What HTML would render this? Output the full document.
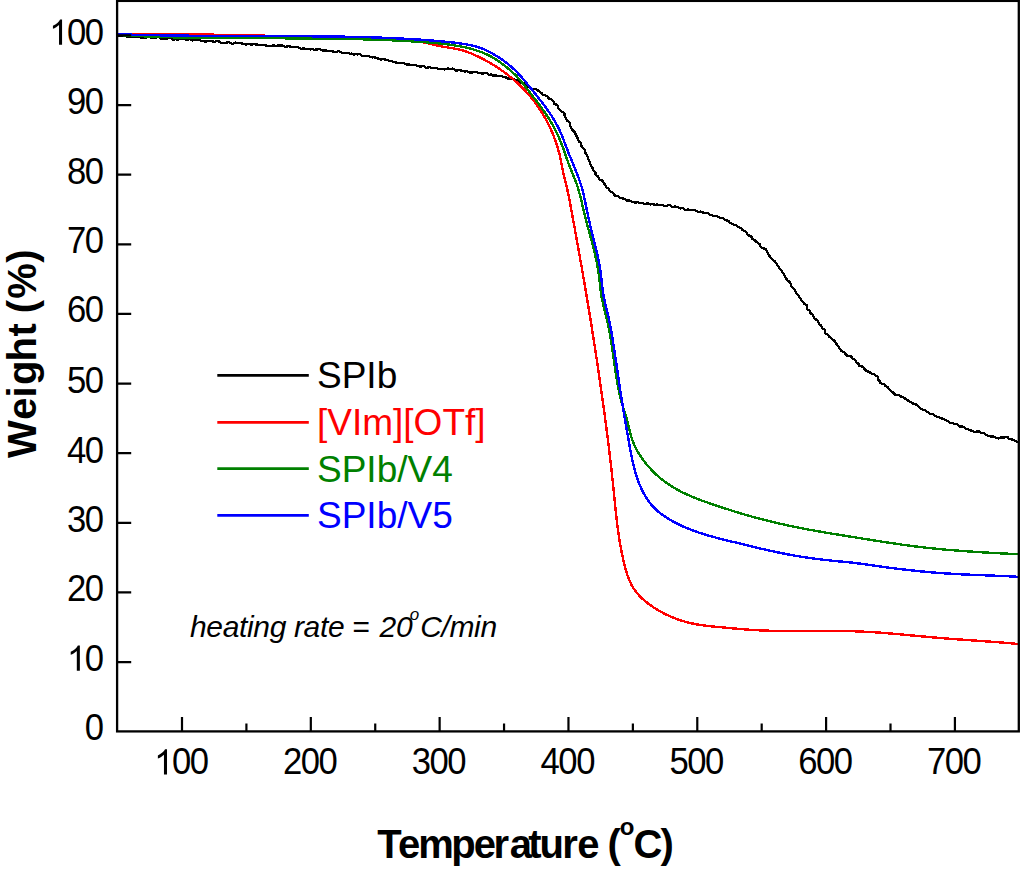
<!DOCTYPE html>
<html><head><meta charset="utf-8"><style>
html,body{margin:0;padding:0;background:#fff;}
body{width:1024px;height:870px;overflow:hidden;}
svg{display:block;}
text{font-family:"Liberation Sans",sans-serif;}
.tl{font-size:36.3px;fill:#000;}
.ttl{font-weight:bold;font-size:40px;fill:#000;}
.lg{font-size:37px;}
.an{font-style:italic;font-size:30px;fill:#000;}
</style></head><body>
<svg width="1024" height="870" viewBox="0 0 1024 870">
<rect width="1024" height="870" fill="#fff"/>
<g fill="none" stroke-linejoin="round" stroke-linecap="round" shape-rendering="crispEdges">
<path d="M116.96,36.39 L118.18,36.07 L119.39,36.01 L120.59,36.10 L121.80,35.95 L122.99,36.10 L124.20,35.99 L125.41,35.93 L126.56,36.65 L127.75,36.86 L128.98,36.47 L130.17,36.61 L131.36,36.88 L132.56,36.79 L133.78,36.48 L134.98,36.47 L136.16,36.99 L137.34,37.31 L138.56,37.00 L139.76,37.01 L140.93,37.66 L142.13,37.65 L143.33,37.68 L144.51,38.16 L145.74,37.62 L146.97,36.94 L148.18,36.76 L149.37,36.94 L150.54,37.64 L151.74,37.71 L152.94,37.71 L154.13,37.87 L155.34,37.65 L156.55,37.52 L157.76,37.27 L158.96,37.26 L160.13,37.89 L161.29,38.92 L162.47,39.21 L163.70,38.74 L164.90,38.65 L166.10,38.68 L167.31,38.58 L168.53,38.09 L169.76,37.50 L170.95,37.76 L172.09,39.00 L173.25,39.82 L174.48,39.33 L175.69,39.17 L176.86,39.70 L178.07,39.56 L179.28,39.28 L180.48,39.31 L181.69,39.22 L182.91,38.93 L184.11,38.91 L185.29,39.39 L186.46,39.85 L187.65,40.00 L188.89,39.43 L190.12,38.96 L191.27,39.78 L192.43,40.50 L193.66,40.02 L194.90,39.45 L196.11,39.34 L197.30,39.56 L198.49,39.79 L199.66,40.19 L200.82,40.79 L202.03,40.78 L203.22,40.92 L204.37,41.60 L205.57,41.64 L206.81,41.18 L208.01,41.23 L209.20,41.39 L210.44,40.90 L211.66,40.66 L212.80,41.43 L213.97,41.98 L215.19,41.67 L216.42,41.30 L217.62,41.33 L218.82,41.46 L219.99,41.90 L221.13,42.70 L222.31,43.02 L223.53,42.80 L224.74,42.70 L225.94,42.69 L227.16,42.53 L228.38,42.35 L229.58,42.31 L230.74,42.97 L231.88,43.80 L233.10,43.57 L234.35,42.90 L235.57,42.64 L236.76,42.79 L237.93,43.28 L239.13,43.26 L240.36,43.02 L241.54,43.30 L242.71,43.74 L243.88,44.14 L245.06,44.43 L246.26,44.45 L247.50,44.04 L248.71,43.89 L249.88,44.38 L251.05,44.78 L252.27,44.47 L253.51,44.05 L254.69,44.30 L255.88,44.51 L257.09,44.36 L258.27,44.73 L259.43,45.29 L260.66,44.93 L261.88,44.71 L263.05,45.19 L264.24,45.32 L265.43,45.40 L266.61,45.72 L267.81,45.84 L269.00,45.94 L270.19,46.10 L271.41,45.88 L272.64,45.54 L273.84,45.52 L275.03,45.74 L276.22,45.84 L277.46,45.43 L278.67,45.35 L279.84,45.76 L281.06,45.56 L282.26,45.59 L283.41,46.25 L284.58,46.61 L285.78,46.76 L286.99,46.58 L288.23,46.23 L289.42,46.31 L290.59,46.71 L291.78,46.94 L292.98,46.98 L294.19,46.94 L295.39,46.96 L296.58,47.07 L297.79,47.08 L298.94,47.63 L300.07,48.45 L301.23,49.00 L302.45,48.80 L303.71,48.21 L304.87,48.67 L306.01,49.35 L307.24,49.10 L308.48,48.69 L309.64,49.23 L310.81,49.51 L312.07,49.00 L313.24,49.35 L314.41,49.75 L315.63,49.54 L316.84,49.49 L318.07,49.27 L319.29,49.18 L320.46,49.54 L321.62,50.00 L322.78,50.42 L323.98,50.53 L325.21,50.29 L326.39,50.58 L327.52,51.21 L328.75,51.04 L329.99,50.76 L331.16,51.08 L332.34,51.33 L333.52,51.57 L334.68,52.02 L335.85,52.29 L337.12,51.82 L338.42,51.10 L339.59,51.46 L340.69,52.32 L341.84,52.77 L343.01,53.10 L344.23,53.01 L345.45,52.96 L346.62,53.27 L347.89,52.83 L349.09,52.95 L350.20,53.69 L351.42,53.62 L352.57,54.07 L353.69,54.69 L354.97,54.28 L356.20,54.13 L357.36,54.52 L358.61,54.31 L359.83,54.26 L360.92,55.06 L362.02,55.78 L363.18,56.11 L364.38,56.17 L365.62,56.05 L366.86,55.93 L368.07,55.98 L369.20,56.49 L370.32,57.04 L371.50,57.23 L372.70,57.38 L373.92,57.35 L375.12,57.49 L376.26,57.90 L377.40,58.31 L378.54,58.72 L379.66,59.25 L380.80,59.63 L382.07,59.42 L383.35,59.14 L384.55,59.28 L385.64,59.90 L386.78,60.33 L388.01,60.30 L389.15,60.68 L390.27,61.19 L391.50,61.19 L392.67,61.42 L393.78,61.99 L394.95,62.24 L396.11,62.57 L397.21,63.16 L398.42,63.25 L399.71,62.88 L400.93,62.92 L402.07,63.34 L403.31,63.22 L404.51,63.29 L405.58,64.13 L406.71,64.60 L407.95,64.47 L409.15,64.55 L410.30,64.96 L411.51,64.99 L412.76,64.76 L413.97,64.77 L415.12,65.16 L416.28,65.55 L417.45,65.84 L418.61,66.18 L419.78,66.50 L420.97,66.66 L422.23,66.34 L423.45,66.20 L424.59,66.74 L425.72,67.44 L426.88,67.87 L428.14,67.47 L429.41,66.95 L430.54,67.62 L431.67,68.31 L432.91,68.01 L434.14,67.81 L435.33,67.99 L436.52,68.19 L437.70,68.47 L438.87,68.83 L440.04,69.20 L441.27,69.02 L442.50,68.76 L443.66,69.22 L444.85,69.43 L446.09,69.07 L447.35,68.60 L448.55,68.64 L449.69,69.34 L450.91,69.21 L452.18,68.53 L453.36,68.79 L454.47,69.75 L455.61,70.39 L456.81,70.48 L458.03,70.35 L459.28,69.94 L460.47,70.10 L461.58,70.95 L462.75,71.26 L463.95,71.36 L465.14,71.47 L466.39,71.10 L467.57,71.29 L468.66,72.23 L469.82,72.61 L471.04,72.52 L472.24,72.52 L473.47,72.29 L474.68,72.26 L475.90,72.13 L477.12,72.00 L478.23,72.72 L479.36,73.28 L480.58,73.18 L481.75,73.45 L482.92,73.69 L484.22,73.09 L485.47,72.83 L486.63,73.18 L487.74,73.80 L488.82,74.66 L490.02,74.72 L491.30,74.33 L492.39,75.06 L493.45,75.98 L494.76,75.51 L496.03,75.22 L497.13,75.88 L498.27,76.36 L499.51,76.29 L500.81,75.97 L501.99,76.25 L503.07,76.99 L504.30,77.05 L505.53,77.13 L506.54,78.09 L507.66,78.57 L508.95,78.42 L510.14,78.63 L511.30,78.97 L512.56,78.94 L513.75,79.20 L514.84,79.74 L515.97,80.13 L517.10,80.55 L518.25,80.89 L519.30,81.48 L520.15,82.50 L521.16,83.15 L522.57,82.91 L523.87,82.94 L524.89,83.58 L525.93,84.16 L526.86,84.97 L527.67,86.01 L528.51,86.99 L529.60,87.49 L530.72,87.95 L531.46,89.13 L532.54,89.66 L534.24,89.01 L535.69,88.87 L536.53,89.87 L537.58,90.48 L538.85,90.70 L539.71,91.66 L540.63,92.48 L541.67,93.09 L542.44,94.16 L543.38,94.91 L544.59,95.26 L545.68,95.78 L546.80,96.28 L547.81,96.95 L548.54,97.98 L549.40,98.82 L550.74,99.07 L551.86,99.61 L552.53,100.66 L553.40,101.50 L553.86,102.73 L554.25,104.01 L555.50,104.46 L556.94,104.77 L557.60,105.79 L557.82,107.17 L558.45,108.19 L559.15,109.16 L559.82,110.15 L560.82,110.89 L561.86,111.62 L563.14,112.19 L564.37,112.82 L564.66,114.10 L564.64,115.57 L565.01,116.77 L565.58,117.84 L566.26,118.84 L566.80,119.92 L567.46,120.93 L568.44,121.74 L569.36,122.59 L569.90,123.67 L570.04,124.99 L570.47,126.14 L570.91,127.27 L571.17,128.50 L571.95,129.43 L572.86,130.28 L573.74,131.16 L574.62,132.04 L575.00,133.19 L575.67,134.19 L576.40,135.16 L576.62,136.40 L577.14,137.47 L577.77,138.49 L578.24,139.60 L578.45,140.84 L579.02,141.89 L580.37,142.54 L581.28,143.41 L581.30,144.75 L581.47,146.01 L582.29,146.93 L582.93,147.96 L583.68,148.93 L584.77,149.74 L585.25,150.85 L585.36,152.13 L585.59,153.35 L586.23,154.38 L586.92,155.39 L587.42,156.48 L587.94,157.57 L588.26,158.75 L588.70,159.87 L589.29,160.91 L589.61,162.10 L589.82,163.33 L590.33,164.42 L590.85,165.51 L591.54,166.50 L592.32,167.43 L592.70,168.59 L593.15,169.71 L593.93,170.64 L594.81,171.50 L595.38,172.54 L595.43,173.94 L595.96,175.04 L597.17,175.65 L598.06,176.48 L598.66,177.52 L599.23,178.59 L599.81,179.67 L601.00,180.25 L602.48,180.60 L603.22,181.54 L603.64,182.75 L604.30,183.77 L605.11,184.67 L605.75,185.71 L605.94,187.13 L606.86,187.94 L608.49,188.15 L609.14,189.17 L609.47,190.49 L610.36,191.30 L611.49,191.83 L612.62,192.29 L613.36,193.23 L613.86,194.55 L614.72,195.43 L616.00,195.63 L617.21,195.89 L618.21,196.53 L619.20,197.23 L620.24,197.86 L621.41,198.18 L622.61,198.42 L623.77,198.75 L624.90,199.15 L625.86,200.08 L626.99,200.51 L628.30,200.35 L629.48,200.58 L630.59,201.06 L631.62,201.84 L632.76,202.24 L633.98,202.28 L635.15,202.51 L636.39,202.39 L637.61,202.26 L638.77,202.52 L639.92,202.82 L641.09,203.07 L642.27,203.21 L643.45,203.39 L644.60,203.93 L645.78,204.11 L647.03,203.50 L648.25,203.37 L649.38,204.21 L650.54,204.64 L651.79,204.12 L653.02,203.86 L654.15,204.61 L655.33,204.87 L656.60,204.39 L657.78,204.63 L658.97,204.82 L660.18,204.86 L661.36,205.09 L662.57,205.12 L663.70,205.74 L664.83,206.37 L666.08,206.10 L667.39,205.47 L668.65,205.19 L669.85,205.28 L670.97,205.99 L672.03,207.03 L673.25,207.01 L674.55,206.49 L675.77,206.48 L676.93,206.85 L678.09,207.18 L679.22,207.72 L680.32,208.40 L681.56,208.23 L682.79,208.17 L683.86,209.00 L684.93,209.82 L686.13,209.85 L687.41,209.50 L688.60,209.63 L689.74,210.03 L690.90,210.32 L692.12,210.29 L693.40,209.96 L694.59,210.13 L695.71,210.59 L696.83,211.08 L697.89,211.79 L699.10,211.83 L700.39,211.58 L701.54,211.88 L702.67,212.30 L703.76,212.89 L704.91,213.21 L706.27,212.75 L707.49,212.87 L708.47,213.83 L709.54,214.44 L710.67,214.85 L711.81,215.25 L712.96,215.60 L714.13,215.90 L715.37,216.01 L716.56,216.27 L717.77,216.45 L718.90,216.90 L719.84,217.89 L721.03,218.15 L722.46,217.83 L723.55,218.37 L724.35,219.62 L725.37,220.30 L726.65,220.39 L727.91,220.53 L728.86,221.38 L729.57,222.69 L730.62,223.26 L731.81,223.55 L732.86,224.14 L733.91,224.70 L735.08,225.05 L736.23,225.45 L737.20,226.15 L738.13,226.93 L739.16,227.52 L740.44,227.74 L741.48,228.33 L742.11,229.52 L742.93,230.41 L744.17,230.72 L745.37,231.10 L746.32,231.84 L746.96,232.92 L747.44,234.19 L748.24,235.07 L749.27,235.68 L750.46,236.13 L751.46,236.81 L751.92,238.06 L752.56,239.11 L753.72,239.63 L754.73,240.30 L755.56,241.16 L756.50,241.92 L757.44,242.67 L758.58,243.24 L759.49,244.02 L759.99,245.23 L760.48,246.44 L761.23,247.39 L762.42,247.90 L763.64,248.39 L764.87,248.89 L766.06,249.42 L766.66,250.52 L767.07,251.79 L767.71,252.84 L768.05,254.15 L768.68,255.20 L769.64,255.95 L770.31,256.95 L771.08,257.86 L771.99,258.66 L772.83,259.51 L773.71,260.34 L774.61,261.16 L775.32,262.12 L776.09,263.04 L776.76,264.04 L777.25,265.17 L778.02,266.09 L778.74,267.04 L779.21,268.18 L780.09,269.03 L781.15,269.76 L781.54,270.95 L782.09,272.02 L783.01,272.85 L783.81,273.76 L784.40,274.81 L784.71,276.04 L785.44,277.00 L786.11,278.00 L786.55,279.15 L787.31,280.08 L788.21,280.93 L789.20,281.71 L790.11,282.55 L790.77,283.55 L790.99,284.85 L791.20,286.15 L791.83,287.17 L792.73,288.01 L793.89,288.65 L794.77,289.49 L795.15,290.69 L795.50,291.91 L796.18,292.90 L796.95,293.82 L797.65,294.79 L798.50,295.64 L799.10,296.69 L799.69,297.74 L800.68,298.49 L801.23,299.57 L801.62,300.76 L802.48,301.61 L803.43,302.39 L804.03,303.43 L804.77,304.37 L806.20,304.87 L807.16,305.69 L807.16,307.12 L807.10,308.57 L807.80,309.55 L809.00,310.23 L809.80,311.15 L810.12,312.36 L810.74,313.39 L811.86,314.05 L812.88,314.76 L813.42,315.84 L813.70,317.15 L814.28,318.22 L815.15,319.06 L816.26,319.68 L817.28,320.38 L817.92,321.41 L818.59,322.42 L819.13,323.53 L819.76,324.56 L820.82,325.25 L821.51,326.23 L821.73,327.55 L822.46,328.49 L823.93,328.93 L825.06,329.60 L825.08,331.04 L825.04,332.55 L825.79,333.50 L827.00,334.09 L827.98,334.82 L828.52,335.93 L829.24,336.89 L830.32,337.49 L831.30,338.18 L832.13,339.05 L833.09,339.78 L834.08,340.49 L834.82,341.47 L835.60,342.40 L836.31,343.36 L836.66,344.59 L837.48,345.48 L838.53,346.22 L838.88,347.44 L839.45,348.52 L840.29,349.39 L840.94,350.43 L841.80,351.30 L842.85,351.94 L844.15,352.20 L845.17,352.84 L845.65,354.29 L846.40,355.35 L847.61,355.72 L848.86,356.03 L850.21,356.22 L851.41,356.67 L851.96,357.91 L852.70,358.88 L854.06,359.21 L855.20,359.78 L855.97,360.72 L856.35,362.04 L856.99,363.10 L858.19,363.59 L858.87,364.60 L859.36,365.83 L860.54,366.30 L861.91,366.49 L863.07,366.89 L863.87,367.77 L864.49,368.97 L865.34,369.87 L866.18,370.81 L867.24,371.40 L868.59,371.49 L869.64,372.09 L870.50,373.03 L871.54,373.65 L872.81,373.86 L873.97,374.29 L874.82,375.19 L876.06,375.57 L877.37,376.03 L877.77,377.36 L877.67,378.94 L878.06,380.13 L879.41,380.65 L880.26,381.50 L880.42,382.91 L881.40,383.66 L882.75,383.85 L883.91,384.16 L884.74,385.05 L885.43,386.20 L886.54,386.65 L887.75,387.05 L888.38,388.13 L888.93,389.26 L889.90,389.99 L890.74,390.85 L891.55,391.74 L892.65,392.28 L893.68,392.85 L894.39,393.96 L895.29,394.84 L896.65,394.83 L898.05,394.69 L899.16,395.15 L900.10,396.01 L901.16,396.63 L902.27,397.13 L903.45,397.47 L904.58,397.92 L905.42,398.92 L906.38,399.65 L907.50,400.11 L908.43,400.89 L909.37,401.65 L910.59,401.96 L911.67,402.49 L912.53,403.38 L913.70,403.77 L915.02,403.92 L916.08,404.48 L916.97,405.32 L917.99,405.94 L918.92,406.72 L919.74,407.68 L920.66,408.48 L921.61,409.23 L922.75,409.65 L923.99,409.91 L925.10,410.38 L926.06,411.11 L926.96,411.95 L928.06,412.43 L929.14,412.96 L930.08,413.75 L931.21,414.16 L932.53,414.20 L933.66,414.60 L934.52,415.56 L935.50,416.29 L936.67,416.57 L937.89,416.72 L939.03,417.01 L940.07,417.63 L941.12,418.22 L942.25,418.56 L943.41,418.85 L944.49,419.34 L945.46,420.04 L946.55,420.50 L947.65,420.94 L948.52,421.84 L949.43,422.66 L950.57,423.05 L951.81,423.23 L953.05,423.35 L954.15,423.78 L955.27,424.18 L956.53,424.20 L957.62,424.71 L958.55,425.68 L959.55,426.40 L960.77,426.60 L962.12,426.49 L963.31,426.76 L964.27,427.55 L965.19,428.42 L966.26,428.96 L967.44,429.20 L968.60,429.47 L969.63,430.14 L970.73,430.61 L971.97,430.54 L973.08,431.09 L974.21,431.87 L975.46,431.71 L976.70,431.45 L977.91,431.54 L979.13,431.50 L980.25,432.01 L981.18,433.06 L982.31,433.13 L983.70,432.78 L984.54,433.73 L985.36,434.69 L986.68,434.77 L987.72,435.38 L988.73,436.12 L989.99,436.24 L991.17,436.51 L992.42,436.48 L993.65,436.36 L994.74,436.95 L995.88,437.52 L997.09,438.12 L998.35,438.48 L999.54,437.90 L1000.70,437.32 L1001.89,437.37 L1003.04,437.66 L1004.21,437.61 L1005.53,437.13 L1006.85,436.92 L1007.97,437.49 L1008.88,438.59 L1009.96,439.15 L1011.23,439.25 L1012.40,439.59 L1013.53,440.00 L1014.64,440.41 L1015.72,440.87 L1016.79,441.51 L1017.98,442.05" stroke="#000" stroke-width="2.3"/>
<path d="M117.00,34.05 L118.50,34.03 L120.00,34.02 L121.50,34.01 L123.00,33.99 L124.50,33.98 L126.00,33.97 L127.50,33.96 L128.99,33.95 L130.49,33.94 L131.99,33.93 L133.49,33.93 L134.99,33.92 L136.49,33.92 L137.99,33.92 L139.49,33.91 L140.99,33.91 L142.49,33.91 L143.99,33.91 L145.48,33.91 L146.98,33.92 L148.48,33.92 L149.98,33.92 L151.48,33.93 L152.98,33.93 L154.48,33.94 L155.98,33.95 L157.48,33.96 L158.98,33.97 L160.48,33.97 L161.98,33.98 L163.47,34.00 L164.97,34.01 L166.47,34.02 L167.97,34.03 L169.47,34.05 L170.97,34.06 L172.47,34.08 L173.97,34.09 L175.47,34.11 L176.97,34.12 L178.47,34.14 L179.97,34.16 L181.46,34.18 L182.96,34.20 L184.46,34.22 L185.96,34.24 L187.46,34.26 L188.96,34.28 L190.46,34.30 L191.96,34.32 L193.46,34.34 L194.96,34.37 L196.46,34.39 L197.96,34.42 L199.45,34.44 L200.95,34.46 L202.45,34.49 L203.95,34.51 L205.45,34.54 L206.95,34.57 L208.45,34.59 L209.95,34.62 L211.45,34.65 L212.95,34.67 L214.45,34.70 L215.95,34.73 L217.44,34.76 L218.94,34.78 L220.44,34.81 L221.94,34.84 L223.44,34.87 L224.94,34.90 L226.44,34.93 L227.94,34.96 L229.44,34.99 L230.94,35.02 L232.44,35.05 L233.93,35.08 L235.43,35.10 L236.93,35.13 L238.43,35.16 L239.93,35.19 L241.43,35.22 L242.93,35.25 L244.43,35.28 L245.93,35.31 L247.43,35.34 L248.92,35.37 L250.42,35.40 L251.92,35.43 L253.42,35.46 L254.92,35.49 L256.42,35.52 L257.92,35.55 L259.42,35.58 L260.92,35.61 L262.41,35.64 L263.91,35.67 L265.41,35.70 L266.91,35.72 L268.41,35.75 L269.91,35.78 L271.41,35.81 L272.91,35.83 L274.41,35.86 L275.90,35.89 L277.40,35.92 L278.90,35.94 L280.40,35.97 L281.90,35.99 L283.40,36.02 L284.90,36.04 L286.40,36.07 L287.89,36.09 L289.39,36.12 L290.89,36.14 L292.39,36.16 L293.89,36.18 L295.39,36.21 L296.89,36.23 L298.38,36.25 L299.88,36.27 L301.38,36.29 L302.88,36.31 L304.38,36.33 L305.88,36.35 L307.38,36.36 L308.87,36.38 L310.37,36.40 L311.87,36.42 L313.37,36.43 L314.87,36.45 L316.37,36.47 L317.87,36.49 L319.36,36.50 L320.86,36.52 L322.36,36.54 L323.86,36.55 L325.36,36.57 L326.86,36.59 L328.36,36.61 L329.85,36.62 L331.35,36.64 L332.85,36.66 L334.35,36.68 L335.85,36.70 L337.35,36.72 L338.85,36.74 L340.35,36.76 L341.85,36.78 L343.34,36.80 L344.84,36.82 L346.34,36.85 L347.84,36.87 L349.34,36.89 L350.84,36.92 L352.34,36.94 L353.84,36.97 L355.34,37.00 L356.84,37.03 L358.34,37.06 L359.84,37.09 L361.34,37.12 L362.84,37.15 L364.34,37.19 L365.84,37.22 L367.34,37.26 L368.84,37.30 L370.34,37.34 L371.84,37.38 L373.34,37.42 L374.84,37.46 L376.34,37.51 L377.84,37.55 L379.34,37.60 L380.84,37.65 L382.34,37.70 L383.84,37.76 L385.35,37.81 L386.85,37.88 L388.35,37.94 L389.85,38.01 L391.34,38.09 L392.84,38.17 L394.34,38.26 L395.84,38.36 L397.33,38.46 L398.83,38.58 L400.32,38.70 L401.81,38.84 L403.30,38.98 L404.79,39.14 L406.27,39.31 L407.76,39.49 L409.24,39.69 L410.72,39.89 L412.20,40.12 L413.67,40.36 L415.15,40.61 L416.62,40.88 L418.08,41.17 L419.55,41.46 L421.02,41.77 L422.48,42.09 L423.94,42.42 L425.40,42.75 L426.86,43.09 L428.33,43.43 L429.79,43.77 L431.25,44.12 L432.71,44.46 L434.18,44.79 L435.64,45.12 L437.11,45.45 L438.58,45.76 L440.05,46.07 L441.52,46.36 L443.00,46.64 L444.48,46.91 L445.96,47.16 L447.45,47.41 L448.93,47.65 L450.42,47.90 L451.90,48.14 L453.38,48.40 L454.85,48.67 L456.32,48.95 L457.79,49.26 L459.24,49.58 L460.69,49.94 L462.13,50.33 L463.57,50.74 L464.99,51.19 L466.40,51.66 L467.81,52.17 L469.21,52.69 L470.60,53.24 L471.99,53.81 L473.36,54.40 L474.73,55.01 L476.10,55.64 L477.46,56.28 L478.81,56.94 L480.15,57.60 L481.49,58.28 L482.83,58.97 L484.16,59.67 L485.48,60.39 L486.80,61.11 L488.11,61.84 L489.41,62.59 L490.71,63.35 L492.00,64.11 L493.29,64.89 L494.56,65.68 L495.83,66.49 L497.09,67.30 L498.35,68.12 L499.59,68.96 L500.83,69.80 L502.06,70.66 L503.28,71.53 L504.50,72.41 L505.70,73.30 L506.90,74.21 L508.08,75.12 L509.26,76.05 L510.43,76.99 L511.59,77.93 L512.74,78.90 L513.88,79.87 L515.01,80.85 L516.12,81.84 L517.23,82.85 L518.33,83.87 L519.42,84.90 L520.50,85.94 L521.56,86.99 L522.62,88.05 L523.66,89.13 L524.69,90.21 L525.71,91.31 L526.72,92.42 L527.72,93.53 L528.71,94.66 L529.68,95.80 L530.65,96.95 L531.60,98.11 L532.53,99.28 L533.46,100.45 L534.37,101.64 L535.28,102.84 L536.16,104.05 L537.04,105.26 L537.90,106.49 L538.75,107.72 L539.59,108.97 L540.41,110.22 L541.23,111.48 L542.02,112.75 L542.81,114.03 L543.58,115.31 L544.33,116.61 L545.08,117.91 L545.80,119.22 L546.52,120.54 L547.22,121.86 L547.91,123.20 L548.58,124.54 L549.23,125.89 L549.88,127.24 L550.50,128.60 L551.12,129.97 L551.72,131.35 L552.30,132.73 L552.87,134.12 L553.42,135.52 L553.96,136.92 L554.49,138.32 L555.00,139.73 L555.50,141.15 L555.99,142.57 L556.46,143.99 L556.92,145.41 L557.37,146.84 L557.81,148.27 L558.23,149.71 L558.65,151.14 L559.04,152.58 L559.42,154.03 L559.78,155.48 L560.11,156.93 L560.41,158.39 L560.70,159.85 L560.98,161.32 L561.25,162.79 L561.52,164.26 L561.80,165.73 L562.08,167.20 L562.38,168.66 L562.69,170.13 L563.02,171.59 L563.35,173.05 L563.69,174.51 L564.04,175.97 L564.39,177.43 L564.75,178.88 L565.11,180.34 L565.47,181.80 L565.82,183.26 L566.18,184.71 L566.53,186.17 L566.87,187.63 L567.20,189.10 L567.53,190.56 L567.84,192.02 L568.15,193.49 L568.46,194.96 L568.75,196.43 L569.05,197.89 L569.34,199.36 L569.62,200.83 L569.90,202.31 L570.18,203.78 L570.45,205.25 L570.73,206.72 L571.00,208.20 L571.27,209.67 L571.54,211.14 L571.81,212.62 L572.09,214.09 L572.36,215.56 L572.63,217.04 L572.90,218.51 L573.17,219.98 L573.44,221.46 L573.71,222.93 L573.98,224.41 L574.25,225.88 L574.52,227.36 L574.79,228.83 L575.06,230.30 L575.32,231.78 L575.59,233.25 L575.86,234.73 L576.13,236.21 L576.40,237.68 L576.66,239.16 L576.93,240.63 L577.20,242.11 L577.46,243.58 L577.73,245.06 L577.99,246.53 L578.26,248.01 L578.52,249.49 L578.79,250.96 L579.05,252.44 L579.31,253.92 L579.58,255.39 L579.84,256.87 L580.10,258.35 L580.36,259.82 L580.62,261.30 L580.89,262.78 L581.15,264.25 L581.41,265.73 L581.67,267.21 L581.92,268.68 L582.18,270.16 L582.44,271.64 L582.70,273.12 L582.96,274.59 L583.21,276.07 L583.47,277.55 L583.72,279.03 L583.98,280.50 L584.23,281.98 L584.49,283.46 L584.74,284.94 L584.99,286.42 L585.25,287.89 L585.50,289.37 L585.75,290.85 L586.00,292.33 L586.25,293.81 L586.50,295.29 L586.75,296.77 L586.99,298.24 L587.24,299.72 L587.49,301.20 L587.73,302.68 L587.98,304.16 L588.23,305.64 L588.47,307.12 L588.71,308.60 L588.96,310.07 L589.20,311.55 L589.44,313.03 L589.68,314.51 L589.92,315.99 L590.16,317.47 L590.40,318.95 L590.64,320.43 L590.88,321.91 L591.12,323.39 L591.35,324.87 L591.59,326.35 L591.83,327.83 L592.06,329.31 L592.30,330.79 L592.53,332.27 L592.76,333.75 L593.00,335.23 L593.23,336.71 L593.46,338.19 L593.69,339.67 L593.92,341.15 L594.15,342.63 L594.38,344.11 L594.61,345.59 L594.84,347.08 L595.06,348.56 L595.29,350.04 L595.52,351.52 L595.74,353.00 L595.97,354.48 L596.19,355.96 L596.42,357.45 L596.64,358.93 L596.86,360.41 L597.09,361.89 L597.31,363.37 L597.53,364.86 L597.75,366.34 L597.97,367.82 L598.19,369.30 L598.41,370.79 L598.62,372.27 L598.84,373.75 L599.06,375.24 L599.28,376.72 L599.49,378.20 L599.71,379.69 L599.92,381.17 L600.14,382.65 L600.35,384.14 L600.56,385.62 L600.78,387.11 L600.99,388.59 L601.20,390.07 L601.41,391.56 L601.62,393.04 L601.83,394.53 L602.04,396.01 L602.25,397.50 L602.45,398.98 L602.66,400.47 L602.87,401.95 L603.07,403.44 L603.28,404.93 L603.49,406.41 L603.69,407.90 L603.89,409.38 L604.10,410.87 L604.30,412.36 L604.50,413.84 L604.70,415.33 L604.90,416.82 L605.10,418.30 L605.30,419.79 L605.50,421.28 L605.70,422.76 L605.89,424.25 L606.09,425.74 L606.28,427.23 L606.48,428.71 L606.67,430.20 L606.87,431.69 L607.06,433.18 L607.25,434.67 L607.44,436.15 L607.63,437.64 L607.82,439.13 L608.00,440.62 L608.19,442.11 L608.38,443.60 L608.56,445.08 L608.74,446.57 L608.93,448.06 L609.11,449.55 L609.29,451.04 L609.47,452.53 L609.65,454.02 L609.82,455.51 L610.00,457.00 L610.18,458.49 L610.35,459.98 L610.52,461.47 L610.70,462.95 L610.87,464.44 L611.04,465.93 L611.21,467.42 L611.37,468.91 L611.54,470.40 L611.70,471.89 L611.87,473.38 L612.03,474.87 L612.19,476.36 L612.35,477.85 L612.51,479.34 L612.67,480.83 L612.83,482.32 L612.98,483.81 L613.13,485.30 L613.29,486.79 L613.44,488.28 L613.59,489.77 L613.74,491.26 L613.89,492.76 L614.04,494.25 L614.18,495.74 L614.33,497.23 L614.48,498.72 L614.63,500.21 L614.78,501.70 L614.93,503.18 L615.08,504.67 L615.23,506.16 L615.39,507.65 L615.54,509.14 L615.70,510.63 L615.86,512.12 L616.02,513.61 L616.18,515.09 L616.35,516.58 L616.52,518.07 L616.69,519.56 L616.86,521.04 L617.04,522.53 L617.23,524.01 L617.41,525.50 L617.60,526.99 L617.80,528.47 L618.00,529.95 L618.20,531.44 L618.41,532.92 L618.62,534.40 L618.84,535.89 L619.06,537.37 L619.29,538.85 L619.53,540.33 L619.77,541.81 L620.01,543.29 L620.27,544.77 L620.53,546.25 L620.80,547.72 L621.07,549.20 L621.35,550.68 L621.64,552.15 L621.94,553.63 L622.24,555.10 L622.55,556.58 L622.87,558.05 L623.20,559.52 L623.54,560.99 L623.89,562.46 L624.24,563.93 L624.61,565.40 L624.98,566.87 L625.37,568.33 L625.77,569.79 L626.19,571.24 L626.63,572.69 L627.08,574.13 L627.56,575.55 L628.06,576.97 L628.59,578.37 L629.14,579.75 L629.73,581.12 L630.34,582.47 L630.99,583.81 L631.67,585.12 L632.39,586.41 L633.14,587.68 L633.94,588.93 L634.78,590.14 L635.66,591.34 L636.57,592.50 L637.52,593.65 L638.50,594.77 L639.52,595.86 L640.57,596.94 L641.64,597.99 L642.74,599.02 L643.86,600.02 L645.01,601.01 L646.18,601.97 L647.37,602.91 L648.57,603.83 L649.79,604.74 L651.03,605.62 L652.27,606.48 L653.53,607.32 L654.80,608.15 L656.08,608.95 L657.36,609.74 L658.66,610.51 L659.97,611.26 L661.28,611.99 L662.61,612.70 L663.94,613.39 L665.29,614.07 L666.64,614.72 L668.00,615.36 L669.37,615.98 L670.74,616.58 L672.12,617.16 L673.51,617.73 L674.91,618.27 L676.31,618.80 L677.72,619.31 L679.14,619.80 L680.56,620.27 L681.98,620.73 L683.42,621.17 L684.85,621.59 L686.30,621.99 L687.74,622.37 L689.19,622.74 L690.65,623.09 L692.11,623.42 L693.57,623.73 L695.04,624.03 L696.51,624.31 L697.98,624.57 L699.45,624.82 L700.93,625.05 L702.41,625.26 L703.89,625.46 L705.38,625.66 L706.86,625.84 L708.35,626.01 L709.84,626.17 L711.33,626.33 L712.82,626.48 L714.31,626.62 L715.81,626.77 L717.30,626.90 L718.79,627.04 L720.29,627.18 L721.78,627.32 L723.27,627.46 L724.77,627.60 L726.26,627.74 L727.76,627.88 L729.25,628.01 L730.74,628.15 L732.24,628.29 L733.73,628.42 L735.23,628.56 L736.72,628.69 L738.22,628.82 L739.71,628.95 L741.21,629.08 L742.70,629.20 L744.20,629.32 L745.69,629.43 L747.19,629.55 L748.68,629.66 L750.18,629.76 L751.67,629.86 L753.17,629.96 L754.67,630.05 L756.16,630.14 L757.66,630.22 L759.16,630.30 L760.65,630.37 L762.15,630.44 L763.65,630.50 L765.15,630.56 L766.64,630.62 L768.14,630.67 L769.64,630.72 L771.14,630.76 L772.64,630.80 L774.13,630.84 L775.63,630.87 L777.13,630.90 L778.63,630.93 L780.13,630.95 L781.63,630.97 L783.13,630.99 L784.63,631.00 L786.13,631.02 L787.63,631.03 L789.13,631.04 L790.63,631.04 L792.13,631.05 L793.63,631.05 L795.13,631.05 L796.63,631.05 L798.13,631.05 L799.63,631.05 L801.13,631.05 L802.63,631.04 L804.13,631.04 L805.63,631.03 L807.13,631.02 L808.63,631.02 L810.13,631.01 L811.63,631.00 L813.13,630.99 L814.63,630.99 L816.13,630.98 L817.63,630.97 L819.13,630.97 L820.63,630.96 L822.13,630.96 L823.63,630.95 L825.13,630.95 L826.63,630.95 L828.13,630.95 L829.63,630.95 L831.13,630.95 L832.63,630.96 L834.13,630.96 L835.63,630.97 L837.13,630.98 L838.62,631.00 L840.12,631.01 L841.62,631.03 L843.12,631.05 L844.62,631.07 L846.12,631.10 L847.62,631.13 L849.11,631.16 L850.61,631.20 L852.11,631.24 L853.61,631.28 L855.10,631.33 L856.60,631.38 L858.10,631.43 L859.60,631.49 L861.09,631.55 L862.59,631.62 L864.09,631.69 L865.58,631.77 L867.08,631.85 L868.57,631.93 L870.07,632.01 L871.56,632.10 L873.06,632.20 L874.55,632.30 L876.05,632.39 L877.54,632.50 L879.04,632.60 L880.53,632.71 L882.03,632.82 L883.52,632.94 L885.02,633.05 L886.51,633.17 L888.00,633.29 L889.50,633.42 L890.99,633.54 L892.49,633.67 L893.98,633.80 L895.47,633.93 L896.97,634.06 L898.46,634.19 L899.95,634.33 L901.45,634.46 L902.94,634.60 L904.43,634.74 L905.93,634.87 L907.42,635.01 L908.91,635.15 L910.41,635.29 L911.90,635.43 L913.39,635.57 L914.88,635.71 L916.38,635.86 L917.87,636.00 L919.36,636.14 L920.86,636.28 L922.35,636.42 L923.84,636.56 L925.34,636.69 L926.83,636.83 L928.32,636.97 L929.82,637.10 L931.31,637.24 L932.81,637.37 L934.30,637.50 L935.79,637.63 L937.29,637.76 L938.78,637.89 L940.28,638.01 L941.77,638.14 L943.26,638.26 L944.76,638.38 L946.25,638.50 L947.75,638.61 L949.24,638.73 L950.74,638.84 L952.23,638.95 L953.73,639.07 L955.22,639.18 L956.72,639.28 L958.21,639.39 L959.71,639.50 L961.20,639.61 L962.70,639.71 L964.19,639.82 L965.69,639.92 L967.18,640.03 L968.68,640.13 L970.17,640.24 L971.67,640.34 L973.17,640.45 L974.66,640.55 L976.16,640.65 L977.65,640.76 L979.15,640.86 L980.64,640.97 L982.14,641.07 L983.63,641.18 L985.13,641.29 L986.62,641.39 L988.12,641.50 L989.61,641.61 L991.11,641.72 L992.60,641.83 L994.10,641.95 L995.59,642.06 L997.09,642.18 L998.58,642.29 L1000.08,642.41 L1001.57,642.53 L1003.07,642.65 L1004.56,642.78 L1006.05,642.90 L1007.55,643.03 L1009.04,643.16 L1010.54,643.29 L1012.03,643.42 L1013.52,643.56 L1015.02,643.70 L1016.51,643.84 L1018.00,643.98" stroke="#f00" stroke-width="2.4"/>
<path d="M117.00,34.94 L118.50,35.03 L119.99,35.12 L121.49,35.21 L122.99,35.29 L124.49,35.38 L125.98,35.46 L127.48,35.54 L128.98,35.62 L130.47,35.70 L131.97,35.78 L133.47,35.85 L134.97,35.92 L136.46,35.99 L137.96,36.06 L139.46,36.13 L140.96,36.20 L142.46,36.27 L143.95,36.33 L145.45,36.39 L146.95,36.45 L148.45,36.51 L149.94,36.57 L151.44,36.63 L152.94,36.68 L154.44,36.74 L155.94,36.79 L157.43,36.84 L158.93,36.89 L160.43,36.94 L161.93,36.99 L163.43,37.03 L164.92,37.08 L166.42,37.12 L167.92,37.16 L169.42,37.21 L170.92,37.25 L172.41,37.29 L173.91,37.32 L175.41,37.36 L176.91,37.40 L178.41,37.43 L179.91,37.47 L181.40,37.50 L182.90,37.53 L184.40,37.56 L185.90,37.59 L187.40,37.62 L188.90,37.65 L190.40,37.67 L191.89,37.70 L193.39,37.73 L194.89,37.75 L196.39,37.77 L197.89,37.80 L199.39,37.82 L200.89,37.84 L202.38,37.86 L203.88,37.88 L205.38,37.90 L206.88,37.92 L208.38,37.93 L209.88,37.95 L211.38,37.97 L212.88,37.98 L214.37,38.00 L215.87,38.01 L217.37,38.02 L218.87,38.04 L220.37,38.05 L221.87,38.06 L223.37,38.07 L224.87,38.08 L226.36,38.09 L227.86,38.10 L229.36,38.11 L230.86,38.12 L232.36,38.13 L233.86,38.14 L235.36,38.15 L236.86,38.15 L238.36,38.16 L239.85,38.17 L241.35,38.17 L242.85,38.18 L244.35,38.18 L245.85,38.19 L247.35,38.20 L248.85,38.20 L250.35,38.21 L251.85,38.21 L253.35,38.21 L254.84,38.22 L256.34,38.22 L257.84,38.23 L259.34,38.23 L260.84,38.23 L262.34,38.24 L263.84,38.24 L265.34,38.25 L266.84,38.25 L268.34,38.25 L269.83,38.26 L271.33,38.26 L272.83,38.27 L274.33,38.27 L275.83,38.27 L277.33,38.28 L278.83,38.28 L280.33,38.29 L281.83,38.29 L283.33,38.30 L284.82,38.30 L286.32,38.31 L287.82,38.31 L289.32,38.32 L290.82,38.32 L292.32,38.33 L293.82,38.34 L295.32,38.34 L296.82,38.35 L298.32,38.36 L299.81,38.37 L301.31,38.38 L302.81,38.38 L304.31,38.39 L305.81,38.40 L307.31,38.41 L308.81,38.42 L310.31,38.44 L311.80,38.45 L313.30,38.46 L314.80,38.47 L316.30,38.49 L317.80,38.50 L319.30,38.52 L320.80,38.53 L322.30,38.55 L323.79,38.56 L325.29,38.58 L326.79,38.60 L328.29,38.62 L329.79,38.64 L331.29,38.66 L332.79,38.68 L334.29,38.70 L335.78,38.72 L337.28,38.75 L338.78,38.77 L340.28,38.80 L341.78,38.82 L343.28,38.85 L344.77,38.88 L346.27,38.91 L347.77,38.94 L349.27,38.97 L350.77,39.00 L352.27,39.03 L353.76,39.07 L355.26,39.10 L356.76,39.14 L358.26,39.17 L359.76,39.21 L361.26,39.25 L362.75,39.29 L364.25,39.33 L365.75,39.38 L367.25,39.42 L368.75,39.46 L370.24,39.51 L371.74,39.56 L373.24,39.61 L374.74,39.66 L376.23,39.71 L377.73,39.76 L379.23,39.82 L380.73,39.87 L382.23,39.93 L383.72,39.99 L385.22,40.05 L386.72,40.11 L388.22,40.17 L389.71,40.23 L391.21,40.30 L392.71,40.36 L394.21,40.43 L395.70,40.50 L397.20,40.57 L398.70,40.65 L400.20,40.72 L401.69,40.80 L403.19,40.88 L404.69,40.96 L406.18,41.04 L407.68,41.12 L409.18,41.20 L410.68,41.29 L412.17,41.38 L413.67,41.47 L415.17,41.56 L416.66,41.65 L418.16,41.75 L419.66,41.84 L421.15,41.94 L422.65,42.04 L424.15,42.15 L425.64,42.25 L427.14,42.36 L428.63,42.48 L430.13,42.60 L431.62,42.72 L433.12,42.85 L434.61,42.98 L436.10,43.12 L437.60,43.26 L439.09,43.41 L440.58,43.56 L442.07,43.73 L443.56,43.90 L445.05,44.07 L446.53,44.26 L448.02,44.45 L449.51,44.66 L450.99,44.87 L452.47,45.09 L453.95,45.32 L455.43,45.56 L456.91,45.81 L458.39,46.07 L459.87,46.34 L461.34,46.63 L462.81,46.92 L464.28,47.23 L465.75,47.55 L467.21,47.89 L468.67,48.24 L470.13,48.61 L471.58,48.99 L473.02,49.40 L474.46,49.82 L475.89,50.26 L477.31,50.72 L478.73,51.20 L480.13,51.70 L481.53,52.23 L482.92,52.77 L484.30,53.35 L485.67,53.94 L487.03,54.56 L488.37,55.21 L489.71,55.89 L491.03,56.59 L492.34,57.32 L493.63,58.07 L494.92,58.85 L496.19,59.65 L497.45,60.48 L498.70,61.32 L499.94,62.18 L501.16,63.06 L502.38,63.96 L503.58,64.87 L504.77,65.79 L505.95,66.73 L507.12,67.69 L508.28,68.65 L509.43,69.62 L510.56,70.60 L511.69,71.59 L512.80,72.59 L513.90,73.61 L514.98,74.64 L516.04,75.68 L517.08,76.75 L518.10,77.83 L519.11,78.93 L520.09,80.06 L521.05,81.20 L522.00,82.35 L522.93,83.52 L523.86,84.70 L524.77,85.89 L525.68,87.08 L526.59,88.27 L527.50,89.47 L528.41,90.66 L529.32,91.85 L530.24,93.04 L531.16,94.22 L532.08,95.41 L533.00,96.59 L533.92,97.78 L534.83,98.96 L535.75,100.15 L536.66,101.34 L537.57,102.53 L538.48,103.73 L539.38,104.93 L540.27,106.13 L541.16,107.34 L542.04,108.55 L542.92,109.77 L543.78,110.99 L544.64,112.22 L545.48,113.46 L546.32,114.71 L547.15,115.96 L547.96,117.22 L548.77,118.48 L549.56,119.75 L550.35,121.03 L551.12,122.32 L551.87,123.61 L552.62,124.91 L553.35,126.22 L554.07,127.53 L554.77,128.86 L555.46,130.19 L556.13,131.53 L556.79,132.88 L557.43,134.23 L558.05,135.60 L558.67,136.96 L559.27,138.34 L559.85,139.72 L560.43,141.11 L560.99,142.50 L561.54,143.90 L562.07,145.30 L562.60,146.70 L563.12,148.10 L563.62,149.51 L564.12,150.92 L564.61,152.34 L565.09,153.75 L565.57,155.16 L566.06,156.57 L566.55,157.98 L567.05,159.38 L567.56,160.78 L568.08,162.18 L568.61,163.57 L569.15,164.96 L569.70,166.35 L570.26,167.74 L570.82,169.13 L571.38,170.52 L571.95,171.91 L572.51,173.30 L573.08,174.69 L573.63,176.09 L574.19,177.49 L574.73,178.89 L575.27,180.29 L575.79,181.70 L576.30,183.11 L576.80,184.52 L577.28,185.94 L577.74,187.36 L578.19,188.79 L578.61,190.22 L579.03,191.66 L579.43,193.10 L579.81,194.54 L580.19,195.99 L580.56,197.44 L580.91,198.89 L581.27,200.35 L581.61,201.80 L581.95,203.26 L582.29,204.72 L582.63,206.17 L582.97,207.63 L583.31,209.09 L583.65,210.55 L583.99,212.01 L584.35,213.46 L584.71,214.92 L585.07,216.37 L585.44,217.83 L585.81,219.28 L586.19,220.73 L586.57,222.18 L586.95,223.63 L587.34,225.08 L587.73,226.53 L588.12,227.98 L588.51,229.43 L588.91,230.88 L589.30,232.33 L589.69,233.78 L590.09,235.23 L590.48,236.68 L590.87,238.12 L591.26,239.57 L591.65,241.02 L592.03,242.47 L592.41,243.93 L592.79,245.38 L593.16,246.83 L593.53,248.28 L593.89,249.74 L594.25,251.19 L594.60,252.65 L594.94,254.11 L595.28,255.57 L595.61,257.03 L595.94,258.49 L596.25,259.95 L596.55,261.42 L596.85,262.88 L597.14,264.35 L597.41,265.82 L597.68,267.29 L597.93,268.77 L598.17,270.25 L598.40,271.72 L598.62,273.21 L598.83,274.69 L599.02,276.18 L599.20,277.66 L599.36,279.15 L599.52,280.65 L599.68,282.14 L599.83,283.63 L599.99,285.13 L600.15,286.62 L600.31,288.11 L600.49,289.60 L600.68,291.09 L600.88,292.57 L601.10,294.05 L601.34,295.53 L601.61,297.00 L601.90,298.47 L602.20,299.94 L602.52,301.40 L602.85,302.86 L603.20,304.32 L603.55,305.78 L603.91,307.24 L604.27,308.69 L604.64,310.15 L605.01,311.60 L605.38,313.05 L605.74,314.51 L606.09,315.97 L606.44,317.42 L606.78,318.88 L607.11,320.34 L607.44,321.81 L607.75,323.27 L608.06,324.73 L608.36,326.20 L608.66,327.67 L608.95,329.14 L609.23,330.60 L609.50,332.08 L609.77,333.55 L610.04,335.02 L610.30,336.50 L610.55,337.97 L610.80,339.45 L611.05,340.92 L611.29,342.40 L611.52,343.88 L611.76,345.36 L611.99,346.84 L612.21,348.33 L612.43,349.81 L612.65,351.29 L612.87,352.78 L613.09,354.26 L613.30,355.75 L613.51,357.23 L613.72,358.72 L613.93,360.21 L614.13,361.70 L614.34,363.19 L614.55,364.68 L614.76,366.16 L614.97,367.65 L615.18,369.14 L615.40,370.63 L615.61,372.12 L615.84,373.60 L616.06,375.09 L616.29,376.57 L616.53,378.05 L616.77,379.54 L617.02,381.02 L617.27,382.50 L617.53,383.97 L617.80,385.45 L618.08,386.92 L618.37,388.39 L618.66,389.86 L618.97,391.32 L619.28,392.79 L619.61,394.25 L619.95,395.70 L620.30,397.16 L620.66,398.61 L621.04,400.06 L621.43,401.50 L621.83,402.94 L622.25,404.38 L622.68,405.81 L623.12,407.24 L623.57,408.67 L624.02,410.10 L624.46,411.53 L624.91,412.96 L625.35,414.39 L625.79,415.82 L626.21,417.26 L626.62,418.69 L627.02,420.14 L627.39,421.59 L627.75,423.04 L628.10,424.49 L628.45,425.95 L628.79,427.41 L629.14,428.86 L629.49,430.32 L629.85,431.77 L630.23,433.21 L630.63,434.66 L631.06,436.09 L631.50,437.52 L631.97,438.94 L632.47,440.35 L632.99,441.75 L633.55,443.13 L634.13,444.51 L634.75,445.87 L635.39,447.22 L636.07,448.56 L636.77,449.88 L637.50,451.19 L638.25,452.49 L639.03,453.77 L639.83,455.04 L640.65,456.30 L641.49,457.54 L642.36,458.77 L643.24,459.99 L644.14,461.19 L645.05,462.38 L645.98,463.56 L646.93,464.72 L647.90,465.87 L648.88,467.00 L649.87,468.12 L650.89,469.23 L651.92,470.32 L652.96,471.39 L654.02,472.45 L655.10,473.49 L656.19,474.52 L657.29,475.52 L658.41,476.52 L659.55,477.49 L660.70,478.45 L661.87,479.39 L663.05,480.31 L664.24,481.22 L665.45,482.11 L666.67,482.98 L667.90,483.84 L669.14,484.67 L670.40,485.50 L671.67,486.30 L672.95,487.09 L674.23,487.86 L675.53,488.62 L676.84,489.36 L678.15,490.09 L679.47,490.80 L680.80,491.49 L682.14,492.17 L683.48,492.84 L684.83,493.49 L686.19,494.13 L687.55,494.75 L688.91,495.37 L690.29,495.96 L691.66,496.55 L693.04,497.13 L694.43,497.70 L695.82,498.25 L697.21,498.80 L698.61,499.34 L700.01,499.87 L701.42,500.39 L702.82,500.91 L704.23,501.42 L705.65,501.92 L707.06,502.42 L708.48,502.91 L709.90,503.40 L711.32,503.89 L712.74,504.37 L714.16,504.85 L715.58,505.33 L717.00,505.80 L718.43,506.28 L719.85,506.75 L721.27,507.22 L722.70,507.69 L724.12,508.15 L725.55,508.61 L726.98,509.07 L728.40,509.53 L729.83,509.99 L731.26,510.44 L732.69,510.89 L734.12,511.34 L735.55,511.78 L736.98,512.23 L738.42,512.66 L739.85,513.10 L741.29,513.53 L742.72,513.96 L744.16,514.38 L745.60,514.81 L747.04,515.22 L748.48,515.64 L749.92,516.05 L751.36,516.45 L752.80,516.85 L754.25,517.25 L755.69,517.65 L757.14,518.04 L758.59,518.42 L760.04,518.80 L761.49,519.18 L762.94,519.56 L764.39,519.93 L765.84,520.30 L767.30,520.66 L768.75,521.02 L770.21,521.38 L771.66,521.73 L773.12,522.08 L774.58,522.42 L776.04,522.77 L777.50,523.11 L778.96,523.44 L780.42,523.78 L781.88,524.10 L783.35,524.43 L784.81,524.75 L786.28,525.07 L787.74,525.39 L789.21,525.70 L790.67,526.01 L792.14,526.32 L793.61,526.63 L795.08,526.93 L796.55,527.23 L798.02,527.52 L799.49,527.82 L800.96,528.11 L802.43,528.39 L803.90,528.68 L805.37,528.96 L806.85,529.24 L808.32,529.52 L809.80,529.79 L811.27,530.07 L812.74,530.33 L814.22,530.60 L815.69,530.87 L817.17,531.13 L818.65,531.39 L820.12,531.65 L821.60,531.90 L823.08,532.15 L824.55,532.41 L826.03,532.65 L827.51,532.90 L828.99,533.15 L830.47,533.39 L831.94,533.64 L833.42,533.88 L834.90,534.12 L836.38,534.36 L837.86,534.60 L839.34,534.84 L840.82,535.07 L842.30,535.31 L843.78,535.55 L845.26,535.79 L846.74,536.02 L848.21,536.26 L849.69,536.50 L851.17,536.74 L852.65,536.97 L854.13,537.21 L855.61,537.45 L857.09,537.69 L858.57,537.93 L860.05,538.17 L861.53,538.41 L863.01,538.65 L864.49,538.89 L865.97,539.13 L867.45,539.36 L868.93,539.60 L870.41,539.84 L871.89,540.08 L873.37,540.31 L874.85,540.55 L876.33,540.78 L877.81,541.02 L879.29,541.25 L880.77,541.48 L882.25,541.71 L883.74,541.94 L885.22,542.17 L886.70,542.40 L888.18,542.62 L889.66,542.85 L891.14,543.07 L892.63,543.29 L894.11,543.51 L895.59,543.73 L897.08,543.94 L898.56,544.16 L900.04,544.37 L901.53,544.58 L903.01,544.79 L904.50,544.99 L905.98,545.20 L907.47,545.40 L908.95,545.60 L910.44,545.79 L911.92,545.99 L913.41,546.18 L914.90,546.37 L916.38,546.55 L917.87,546.73 L919.36,546.91 L920.85,547.09 L922.33,547.26 L923.82,547.43 L925.31,547.60 L926.80,547.77 L928.29,547.93 L929.78,548.09 L931.27,548.25 L932.76,548.40 L934.25,548.55 L935.75,548.70 L937.24,548.85 L938.73,549.00 L940.22,549.14 L941.71,549.28 L943.21,549.42 L944.70,549.55 L946.19,549.68 L947.69,549.82 L949.18,549.94 L950.67,550.07 L952.17,550.19 L953.66,550.32 L955.16,550.44 L956.65,550.56 L958.15,550.67 L959.64,550.79 L961.14,550.90 L962.63,551.01 L964.13,551.12 L965.62,551.23 L967.12,551.33 L968.61,551.44 L970.11,551.54 L971.61,551.64 L973.10,551.74 L974.60,551.84 L976.09,551.93 L977.59,552.03 L979.09,552.12 L980.58,552.21 L982.08,552.31 L983.58,552.40 L985.07,552.48 L986.57,552.57 L988.07,552.66 L989.56,552.74 L991.06,552.83 L992.56,552.91 L994.05,552.99 L995.55,553.07 L997.05,553.15 L998.54,553.23 L1000.04,553.31 L1001.54,553.38 L1003.04,553.46 L1004.53,553.54 L1006.03,553.61 L1007.53,553.69 L1009.02,553.76 L1010.52,553.83 L1012.01,553.91 L1013.51,553.98 L1015.01,554.05 L1016.50,554.12 L1018.00,554.19" stroke="#008000" stroke-width="2.4"/>
<path d="M117.00,34.28 L118.50,34.33 L120.00,34.38 L121.50,34.42 L123.00,34.47 L124.50,34.51 L125.99,34.55 L127.49,34.59 L128.99,34.64 L130.49,34.68 L131.99,34.71 L133.49,34.75 L134.99,34.79 L136.49,34.83 L137.98,34.86 L139.48,34.90 L140.98,34.93 L142.48,34.97 L143.98,35.00 L145.48,35.03 L146.98,35.07 L148.48,35.10 L149.98,35.13 L151.47,35.16 L152.97,35.19 L154.47,35.21 L155.97,35.24 L157.47,35.27 L158.97,35.29 L160.47,35.32 L161.97,35.35 L163.47,35.37 L164.97,35.39 L166.46,35.42 L167.96,35.44 L169.46,35.46 L170.96,35.48 L172.46,35.50 L173.96,35.52 L175.46,35.54 L176.96,35.56 L178.46,35.58 L179.96,35.60 L181.46,35.62 L182.95,35.64 L184.45,35.65 L185.95,35.67 L187.45,35.68 L188.95,35.70 L190.45,35.71 L191.95,35.73 L193.45,35.74 L194.95,35.76 L196.45,35.77 L197.95,35.78 L199.45,35.80 L200.95,35.81 L202.44,35.82 L203.94,35.83 L205.44,35.84 L206.94,35.85 L208.44,35.86 L209.94,35.87 L211.44,35.88 L212.94,35.89 L214.44,35.90 L215.94,35.91 L217.44,35.92 L218.94,35.93 L220.44,35.93 L221.94,35.94 L223.43,35.95 L224.93,35.96 L226.43,35.96 L227.93,35.97 L229.43,35.98 L230.93,35.98 L232.43,35.99 L233.93,36.00 L235.43,36.00 L236.93,36.01 L238.43,36.01 L239.93,36.02 L241.43,36.02 L242.93,36.03 L244.43,36.03 L245.92,36.04 L247.42,36.04 L248.92,36.05 L250.42,36.05 L251.92,36.06 L253.42,36.06 L254.92,36.07 L256.42,36.07 L257.92,36.08 L259.42,36.08 L260.92,36.09 L262.42,36.09 L263.92,36.10 L265.42,36.10 L266.92,36.11 L268.41,36.11 L269.91,36.12 L271.41,36.12 L272.91,36.13 L274.41,36.13 L275.91,36.14 L277.41,36.14 L278.91,36.15 L280.41,36.15 L281.91,36.16 L283.41,36.16 L284.91,36.17 L286.41,36.18 L287.90,36.18 L289.40,36.19 L290.90,36.19 L292.40,36.20 L293.90,36.21 L295.40,36.22 L296.90,36.22 L298.40,36.23 L299.90,36.24 L301.40,36.25 L302.90,36.26 L304.40,36.27 L305.89,36.27 L307.39,36.28 L308.89,36.29 L310.39,36.30 L311.89,36.31 L313.39,36.33 L314.89,36.34 L316.39,36.35 L317.89,36.36 L319.39,36.38 L320.89,36.39 L322.38,36.40 L323.88,36.42 L325.38,36.43 L326.88,36.45 L328.38,36.47 L329.88,36.48 L331.38,36.50 L332.88,36.52 L334.38,36.54 L335.87,36.56 L337.37,36.58 L338.87,36.60 L340.37,36.63 L341.87,36.65 L343.37,36.68 L344.87,36.70 L346.36,36.73 L347.86,36.76 L349.36,36.78 L350.86,36.81 L352.36,36.84 L353.86,36.88 L355.36,36.91 L356.85,36.94 L358.35,36.98 L359.85,37.01 L361.35,37.05 L362.85,37.09 L364.35,37.13 L365.84,37.17 L367.34,37.21 L368.84,37.25 L370.34,37.30 L371.84,37.34 L373.33,37.39 L374.83,37.44 L376.33,37.49 L377.83,37.54 L379.33,37.59 L380.82,37.65 L382.32,37.70 L383.82,37.76 L385.32,37.82 L386.82,37.88 L388.31,37.94 L389.81,38.01 L391.31,38.07 L392.81,38.14 L394.30,38.21 L395.80,38.28 L397.30,38.35 L398.79,38.42 L400.29,38.50 L401.79,38.57 L403.29,38.65 L404.78,38.73 L406.28,38.82 L407.78,38.90 L409.27,38.99 L410.77,39.07 L412.27,39.16 L413.77,39.26 L415.26,39.35 L416.76,39.45 L418.26,39.54 L419.75,39.64 L421.25,39.75 L422.75,39.85 L424.24,39.96 L425.74,40.07 L427.23,40.18 L428.73,40.29 L430.23,40.40 L431.72,40.52 L433.22,40.64 L434.72,40.76 L436.21,40.89 L437.71,41.01 L439.20,41.14 L440.70,41.27 L442.20,41.41 L443.69,41.54 L445.19,41.68 L446.68,41.83 L448.17,41.98 L449.67,42.13 L451.16,42.29 L452.65,42.45 L454.14,42.63 L455.63,42.80 L457.12,42.99 L458.61,43.18 L460.10,43.38 L461.58,43.59 L463.06,43.81 L464.54,44.04 L466.02,44.29 L467.49,44.56 L468.96,44.84 L470.42,45.14 L471.87,45.46 L473.32,45.81 L474.76,46.18 L476.20,46.58 L477.62,47.01 L479.04,47.46 L480.44,47.96 L481.84,48.48 L483.22,49.04 L484.60,49.62 L485.97,50.24 L487.32,50.88 L488.67,51.54 L490.01,52.23 L491.34,52.94 L492.65,53.67 L493.96,54.42 L495.26,55.18 L496.55,55.96 L497.82,56.76 L499.09,57.57 L500.34,58.40 L501.58,59.25 L502.81,60.11 L504.03,60.99 L505.23,61.88 L506.42,62.80 L507.60,63.72 L508.76,64.66 L509.91,65.62 L511.05,66.60 L512.16,67.59 L513.27,68.60 L514.35,69.62 L515.43,70.66 L516.48,71.71 L517.52,72.78 L518.55,73.86 L519.57,74.95 L520.57,76.06 L521.57,77.17 L522.55,78.29 L523.53,79.43 L524.50,80.57 L525.46,81.72 L526.42,82.87 L527.37,84.03 L528.32,85.20 L529.26,86.36 L530.20,87.53 L531.14,88.71 L532.08,89.88 L533.02,91.05 L533.97,92.23 L534.91,93.40 L535.84,94.58 L536.78,95.76 L537.71,96.94 L538.64,98.12 L539.57,99.30 L540.49,100.49 L541.41,101.68 L542.32,102.87 L543.23,104.07 L544.13,105.27 L545.02,106.48 L545.91,107.69 L546.78,108.91 L547.65,110.13 L548.50,111.36 L549.35,112.59 L550.18,113.83 L551.01,115.08 L551.82,116.33 L552.61,117.59 L553.40,118.86 L554.17,120.14 L554.92,121.43 L555.67,122.72 L556.39,124.03 L557.10,125.34 L557.79,126.66 L558.46,128.00 L559.12,129.34 L559.75,130.70 L560.37,132.06 L560.97,133.44 L561.56,134.82 L562.13,136.21 L562.69,137.61 L563.24,139.01 L563.79,140.41 L564.33,141.82 L564.86,143.23 L565.39,144.64 L565.92,146.05 L566.45,147.46 L566.99,148.86 L567.53,150.27 L568.07,151.67 L568.62,153.06 L569.18,154.45 L569.74,155.84 L570.30,157.22 L570.87,158.61 L571.43,159.99 L572.00,161.37 L572.57,162.75 L573.15,164.14 L573.72,165.52 L574.29,166.90 L574.86,168.29 L575.43,169.68 L575.99,171.07 L576.55,172.47 L577.10,173.86 L577.64,175.27 L578.17,176.67 L578.70,178.08 L579.20,179.49 L579.70,180.91 L580.18,182.33 L580.64,183.75 L581.08,185.19 L581.51,186.62 L581.91,188.06 L582.31,189.51 L582.68,190.96 L583.04,192.41 L583.40,193.86 L583.74,195.32 L584.07,196.78 L584.39,198.24 L584.70,199.71 L585.01,201.18 L585.32,202.64 L585.62,204.11 L585.92,205.58 L586.22,207.05 L586.52,208.52 L586.83,209.98 L587.14,211.45 L587.45,212.92 L587.76,214.38 L588.08,215.85 L588.40,217.31 L588.72,218.77 L589.05,220.24 L589.38,221.70 L589.72,223.16 L590.06,224.62 L590.40,226.08 L590.74,227.54 L591.08,228.99 L591.43,230.45 L591.79,231.91 L592.14,233.36 L592.50,234.82 L592.86,236.28 L593.22,237.73 L593.58,239.19 L593.95,240.64 L594.31,242.10 L594.67,243.55 L595.04,245.01 L595.40,246.46 L595.76,247.92 L596.11,249.38 L596.47,250.83 L596.81,252.29 L597.15,253.75 L597.49,255.21 L597.82,256.68 L598.13,258.14 L598.45,259.61 L598.75,261.07 L599.04,262.54 L599.32,264.01 L599.58,265.49 L599.84,266.96 L600.08,268.44 L600.31,269.92 L600.52,271.41 L600.72,272.89 L600.91,274.38 L601.09,275.87 L601.25,277.36 L601.42,278.86 L601.58,280.35 L601.74,281.84 L601.90,283.34 L602.06,284.83 L602.23,286.32 L602.40,287.81 L602.59,289.30 L602.79,290.78 L603.00,292.27 L603.23,293.75 L603.48,295.22 L603.75,296.69 L604.04,298.16 L604.34,299.63 L604.66,301.09 L604.99,302.55 L605.33,304.01 L605.68,305.47 L606.03,306.93 L606.39,308.38 L606.75,309.84 L607.11,311.30 L607.46,312.76 L607.81,314.21 L608.16,315.68 L608.49,317.14 L608.82,318.60 L609.13,320.07 L609.44,321.54 L609.73,323.01 L610.02,324.48 L610.31,325.95 L610.58,327.43 L610.85,328.90 L611.11,330.38 L611.37,331.86 L611.63,333.34 L611.88,334.82 L612.12,336.30 L612.37,337.78 L612.61,339.26 L612.85,340.74 L613.08,342.22 L613.32,343.70 L613.55,345.18 L613.78,346.66 L614.01,348.14 L614.23,349.62 L614.46,351.10 L614.68,352.58 L614.90,354.06 L615.12,355.54 L615.34,357.03 L615.56,358.51 L615.78,359.99 L616.00,361.47 L616.22,362.95 L616.43,364.44 L616.65,365.92 L616.87,367.40 L617.08,368.89 L617.30,370.37 L617.51,371.85 L617.73,373.34 L617.95,374.82 L618.17,376.30 L618.38,377.79 L618.60,379.27 L618.82,380.76 L619.04,382.24 L619.27,383.73 L619.49,385.21 L619.71,386.69 L619.94,388.18 L620.16,389.66 L620.39,391.15 L620.62,392.63 L620.85,394.11 L621.08,395.60 L621.31,397.08 L621.54,398.56 L621.77,400.05 L622.01,401.53 L622.24,403.01 L622.48,404.49 L622.72,405.97 L622.96,407.45 L623.20,408.93 L623.44,410.41 L623.68,411.89 L623.93,413.36 L624.18,414.84 L624.42,416.32 L624.67,417.79 L624.92,419.27 L625.18,420.74 L625.43,422.21 L625.69,423.68 L625.94,425.15 L626.20,426.63 L626.46,428.10 L626.72,429.57 L626.98,431.04 L627.24,432.51 L627.50,433.98 L627.76,435.45 L628.03,436.93 L628.29,438.40 L628.55,439.88 L628.81,441.36 L629.07,442.83 L629.33,444.31 L629.60,445.79 L629.86,447.28 L630.13,448.76 L630.40,450.24 L630.68,451.72 L630.96,453.20 L631.24,454.68 L631.54,456.15 L631.83,457.63 L632.14,459.10 L632.46,460.57 L632.78,462.04 L633.11,463.51 L633.46,464.97 L633.81,466.43 L634.18,467.88 L634.56,469.33 L634.95,470.78 L635.36,472.22 L635.78,473.65 L636.22,475.08 L636.67,476.51 L637.14,477.93 L637.63,479.34 L638.13,480.74 L638.66,482.14 L639.20,483.53 L639.76,484.92 L640.35,486.29 L640.95,487.66 L641.58,489.02 L642.23,490.37 L642.90,491.71 L643.60,493.04 L644.33,494.36 L645.07,495.66 L645.85,496.95 L646.65,498.23 L647.47,499.49 L648.33,500.73 L649.21,501.95 L650.11,503.14 L651.05,504.32 L652.01,505.47 L653.00,506.59 L654.03,507.68 L655.08,508.75 L656.16,509.78 L657.27,510.78 L658.41,511.75 L659.57,512.69 L660.76,513.60 L661.97,514.49 L663.19,515.36 L664.44,516.21 L665.69,517.04 L666.96,517.85 L668.24,518.65 L669.53,519.43 L670.82,520.20 L672.13,520.95 L673.44,521.68 L674.76,522.40 L676.09,523.10 L677.43,523.79 L678.77,524.46 L680.12,525.11 L681.47,525.75 L682.83,526.37 L684.20,526.98 L685.57,527.58 L686.95,528.15 L688.33,528.72 L689.72,529.27 L691.11,529.81 L692.51,530.34 L693.91,530.85 L695.31,531.36 L696.73,531.85 L698.14,532.33 L699.56,532.81 L700.98,533.27 L702.41,533.72 L703.84,534.17 L705.27,534.60 L706.71,535.03 L708.14,535.45 L709.59,535.86 L711.03,536.27 L712.47,536.67 L713.92,537.07 L715.37,537.46 L716.82,537.84 L718.28,538.22 L719.73,538.59 L721.19,538.97 L722.65,539.33 L724.10,539.70 L725.56,540.06 L727.02,540.42 L728.48,540.78 L729.94,541.14 L731.40,541.50 L732.86,541.86 L734.32,542.21 L735.78,542.57 L737.23,542.93 L738.69,543.29 L740.15,543.64 L741.61,544.00 L743.07,544.35 L744.52,544.71 L745.98,545.06 L747.44,545.42 L748.90,545.77 L750.35,546.12 L751.81,546.47 L753.27,546.82 L754.73,547.16 L756.18,547.51 L757.64,547.85 L759.10,548.19 L760.56,548.53 L762.02,548.87 L763.48,549.21 L764.94,549.54 L766.40,549.87 L767.86,550.20 L769.32,550.52 L770.78,550.85 L772.24,551.17 L773.71,551.48 L775.17,551.80 L776.63,552.11 L778.10,552.41 L779.56,552.72 L781.03,553.02 L782.50,553.32 L783.96,553.61 L785.43,553.90 L786.90,554.18 L788.37,554.46 L789.85,554.74 L791.32,555.01 L792.79,555.28 L794.27,555.54 L795.74,555.80 L797.22,556.06 L798.70,556.31 L800.18,556.55 L801.66,556.79 L803.14,557.02 L804.62,557.25 L806.11,557.48 L807.59,557.69 L809.08,557.91 L810.57,558.12 L812.06,558.32 L813.55,558.52 L815.04,558.71 L816.53,558.91 L818.02,559.09 L819.51,559.27 L821.00,559.45 L822.50,559.63 L823.99,559.80 L825.48,559.97 L826.97,560.13 L828.47,560.29 L829.96,560.45 L831.45,560.61 L832.94,560.76 L834.43,560.91 L835.92,561.06 L837.42,561.20 L838.90,561.34 L840.39,561.48 L841.88,561.62 L843.37,561.76 L844.86,561.91 L846.34,562.05 L847.83,562.20 L849.32,562.35 L850.80,562.51 L852.29,562.68 L853.78,562.85 L855.26,563.03 L856.75,563.21 L858.23,563.39 L859.72,563.59 L861.20,563.78 L862.69,563.98 L864.18,564.18 L865.66,564.39 L867.15,564.59 L868.63,564.80 L870.12,565.01 L871.60,565.23 L873.09,565.44 L874.57,565.65 L876.06,565.87 L877.55,566.08 L879.03,566.29 L880.52,566.50 L882.01,566.71 L883.49,566.92 L884.98,567.13 L886.47,567.33 L887.95,567.53 L889.44,567.73 L890.93,567.93 L892.42,568.12 L893.90,568.31 L895.39,568.50 L896.88,568.69 L898.37,568.87 L899.86,569.05 L901.35,569.23 L902.83,569.41 L904.32,569.58 L905.81,569.75 L907.30,569.92 L908.79,570.09 L910.28,570.25 L911.77,570.42 L913.26,570.58 L914.75,570.73 L916.24,570.89 L917.74,571.04 L919.23,571.19 L920.72,571.33 L922.21,571.48 L923.70,571.62 L925.19,571.76 L926.69,571.89 L928.18,572.03 L929.67,572.16 L931.16,572.29 L932.66,572.41 L934.15,572.54 L935.65,572.66 L937.14,572.77 L938.63,572.89 L940.13,573.00 L941.62,573.11 L943.12,573.22 L944.61,573.32 L946.11,573.42 L947.60,573.52 L949.10,573.62 L950.60,573.71 L952.09,573.80 L953.59,573.89 L955.08,573.98 L956.58,574.06 L958.08,574.14 L959.58,574.22 L961.07,574.30 L962.57,574.37 L964.07,574.44 L965.57,574.51 L967.07,574.58 L968.57,574.65 L970.06,574.72 L971.56,574.78 L973.06,574.85 L974.56,574.91 L976.06,574.97 L977.56,575.03 L979.06,575.09 L980.56,575.15 L982.05,575.21 L983.55,575.27 L985.05,575.33 L986.55,575.39 L988.05,575.45 L989.55,575.50 L991.05,575.56 L992.55,575.62 L994.04,575.68 L995.54,575.74 L997.04,575.80 L998.54,575.87 L1000.04,575.93 L1001.54,575.99 L1003.03,576.06 L1004.53,576.12 L1006.03,576.19 L1007.53,576.26 L1009.02,576.33 L1010.52,576.41 L1012.02,576.48 L1013.51,576.56 L1015.01,576.64 L1016.50,576.72 L1018.00,576.80" stroke="#00f" stroke-width="2.4"/>
</g>
<rect x="117.1" y="0.9" width="901.7" height="730.5" fill="none" stroke="#000" stroke-width="2.3"/>
<path d="M117.1,662.07 H131.2 M117.1,592.44 H131.2 M117.1,522.81 H131.2 M117.1,453.18 H131.2 M117.1,383.55 H131.2 M117.1,313.92 H131.2 M117.1,244.29 H131.2 M117.1,174.66 H131.2 M117.1,105.03 H131.2 M117.1,35.40 H131.2 M182.00,731.4 V717.0 M310.82,731.4 V717.0 M439.64,731.4 V717.0 M568.46,731.4 V717.0 M697.28,731.4 V717.0 M826.10,731.4 V717.0 M954.92,731.4 V717.0 M246.41,731.4 V723.5 M375.23,731.4 V723.5 M504.05,731.4 V723.5 M632.87,731.4 V723.5 M761.69,731.4 V723.5 M890.51,731.4 V723.5" stroke="#000" stroke-width="2.2" fill="none"/>
<g fill="#000" transform="scale(0.955,1)"><text x="88.74" y="740.50" class="tl">0</text><path d="M763,0 L583,0 L583,1147 Q518,1085 412.5,1023 Q307,961 223,930 L223,1104 Q374,1175 487,1276 Q600,1377 647,1472 L763,1472 Z" transform="translate(70.10,670.70) scale(0.01772,-0.01710)"/><text x="88.74" y="670.70" class="tl">0</text><text x="70.10 88.74" y="601.40" class="tl">20</text><text x="70.10 88.74" y="532.00" class="tl">30</text><text x="70.10 88.74" y="462.60" class="tl">40</text><text x="70.10 88.74" y="393.00" class="tl">50</text><text x="70.10 88.74" y="322.40" class="tl">60</text><text x="70.10 88.74" y="252.60" class="tl">70</text><text x="70.10 88.74" y="183.60" class="tl">80</text><text x="70.10 88.74" y="113.80" class="tl">90</text><path d="M763,0 L583,0 L583,1147 Q518,1085 412.5,1023 Q307,961 223,930 L223,1104 Q374,1175 487,1276 Q600,1377 647,1472 L763,1472 Z" transform="translate(51.47,44.70) scale(0.01772,-0.01710)"/><text x="70.10 88.74" y="44.70" class="tl">00</text><path d="M763,0 L583,0 L583,1147 Q518,1085 412.5,1023 Q307,961 223,930 L223,1104 Q374,1175 487,1276 Q600,1377 647,1472 L763,1472 Z" transform="translate(161.36,774.40) scale(0.01772,-0.01710)"/><text x="180.00 198.64" y="774.40" class="tl">00</text><text x="296.25 314.89 333.53" y="774.40" class="tl">200</text><text x="431.14 449.78 468.42" y="774.40" class="tl">300</text><text x="566.03 584.67 603.31" y="774.40" class="tl">400</text><text x="700.92 719.56 738.20" y="774.40" class="tl">500</text><text x="835.81 854.45 873.09" y="774.40" class="tl">600</text><text x="970.70 989.34 1007.98" y="774.40" class="tl">700</text></g>
<text class="ttl" transform="translate(36.2,458) rotate(-90) scale(1,1.035)" x="0.00 38.24 60.41 72.96 96.51 121.51 134.83 144.81 159.20 195.16" y="0">Weight (&#37;)</text>
<text class="ttl" y="857.5" x="377.15 397.94 418.16 451.16 473.84 493.46 509.73 528.21 539.62 562.26 577.34 599.58 607.51">Temperature (</text><text class="ttl" style="font-size:24px" y="834.8" x="619.86">o</text><text class="ttl" y="857.5" x="633.46 660.56">C)</text>
<line x1="217.3" y1="375.4" x2="308.8" y2="375.4" stroke="#000" stroke-width="2.7"/><text class="lg" x="317" y="387.7" fill="#000">SPIb</text><line x1="217.3" y1="422.3" x2="308.8" y2="422.3" stroke="#f00" stroke-width="2.7"/><text class="lg" x="317" y="435.3" fill="#f00">[VIm][OTf]</text><line x1="217.3" y1="468.7" x2="308.8" y2="468.7" stroke="#008000" stroke-width="2.7"/><text class="lg" x="317" y="481.8" fill="#008000">SPIb/V4</text><line x1="217.3" y1="515.4" x2="308.8" y2="515.4" stroke="#00f" stroke-width="2.7"/><text class="lg" x="317" y="528.2" fill="#00f">SPIb/V5</text>
<text class="an" y="636.7" x="190.00 206.34 222.67 239.01 246.99 253.31 269.64 285.97 293.96 303.60 319.93 327.92 344.25 352.10 369.27 379.58 395.91">heating rate = 20</text><text class="an" style="font-size:17px" y="620" x="409.64">o</text><text class="an" y="636.7" x="420.14 441.46 449.44 474.08 480.40">C/min</text>
</svg>
</body></html>
